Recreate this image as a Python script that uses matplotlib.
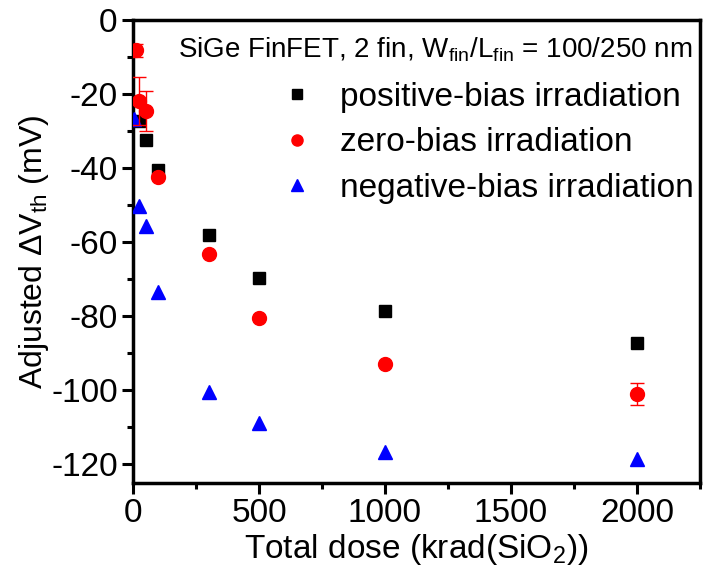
import numpy as np
import matplotlib
matplotlib.use("Agg")
import matplotlib.pyplot as plt
from matplotlib.lines import Line2D
from matplotlib.ticker import MultipleLocator

plt.rcParams["font.family"] = ["Liberation Sans", "DejaVu Sans"]
plt.rcParams["mathtext.fontset"] = "custom"
plt.rcParams["mathtext.rm"] = "Liberation Sans"
plt.rcParams["mathtext.it"] = "Liberation Sans"
plt.rcParams["mathtext.default"] = "regular"
plt.rcParams["axes.unicode_minus"] = False

# dose (krad(SiO2)) and adjusted dVth (mV)
pos_dose = [25, 50, 100, 300, 500, 1000, 2000]
pos_dvth = [-27.3, -32.5, -40.5, -58.0, -69.6, -78.5, -87.1]

zero_dose = [12, 25, 50, 100, 300, 500, 1000, 2000]
zero_dvth = [-8.2, -21.9, -24.7, -42.4, -63.3, -80.5, -92.9, -100.9]
zero_err = [1.8, 6.5, 5.4, 0.0, 0.0, 0.0, 0.0, 3.0]

neg_dose = [5, 25, 50, 100, 300, 500, 1000, 2000]
neg_dvth = [-26.6, -50.2, -55.5, -73.5, -100.3, -108.7, -116.5, -118.6]

labels = ["positive-bias irradiation", "zero-bias irradiation",
          "negative-bias irradiation"]

fig = plt.figure(figsize=(7.03, 5.83), dpi=100)
ax = fig.add_axes([133 / 703, 1 - 483 / 583, 567 / 703, 463 / 583])

ax.plot(pos_dose, pos_dvth, ls="none", marker="s", ms=9, color="black", zorder=3)
ax.errorbar(zero_dose, zero_dvth, yerr=zero_err, ls="none", marker="o", ms=10,
            color="red", ecolor="red", elinewidth=1, capsize=5, capthick=1,
            zorder=4)
ax.plot(neg_dose, neg_dvth, ls="none", marker="^", ms=10, color="blue", zorder=3)

ax.set_xlim(0, 2250)
ax.set_ylim(-125, 0)
ax.xaxis.set_major_locator(MultipleLocator(500))
ax.xaxis.set_minor_locator(MultipleLocator(250))
ax.yaxis.set_major_locator(MultipleLocator(20))
ax.yaxis.set_minor_locator(MultipleLocator(10))
ax.tick_params(which="major", direction="out", length=8, width=2.2,
               labelsize=24, pad=3)
ax.tick_params(which="minor", direction="out", length=4, width=2.2)
for s in ax.spines.values():
    s.set_linewidth(2.5)

ax.set_xlabel("Total dose (krad(SiO$_2$))", fontsize=24, labelpad=2)
ax.set_ylabel("Adjusted \u0394V$_{th}$ (mV)", fontsize=23, labelpad=0)

ax.text(0.987, 0.935, "SiGe FinFET, 2 fin, W$_{fin}$/L$_{fin}$ = 100/250 nm",
        transform=ax.transAxes, ha="right", va="center", fontsize=20)

handles = [
    Line2D([], [], ls="none", marker="s", ms=7, color="black"),
    Line2D([], [], ls="none", marker="o", ms=8, color="red"),
    Line2D([], [], ls="none", marker="^", ms=8, color="blue"),
]
ax.legend(handles, labels, loc="upper left",
          bbox_to_anchor=(280 / 703, 1 - 82 / 583), bbox_transform=fig.transFigure,
          frameon=False, fontsize=24, handlelength=1.0, handletextpad=0.8,
          labelspacing=0.43, borderpad=0, borderaxespad=0)

fig.savefig("out.png", dpi=100)
